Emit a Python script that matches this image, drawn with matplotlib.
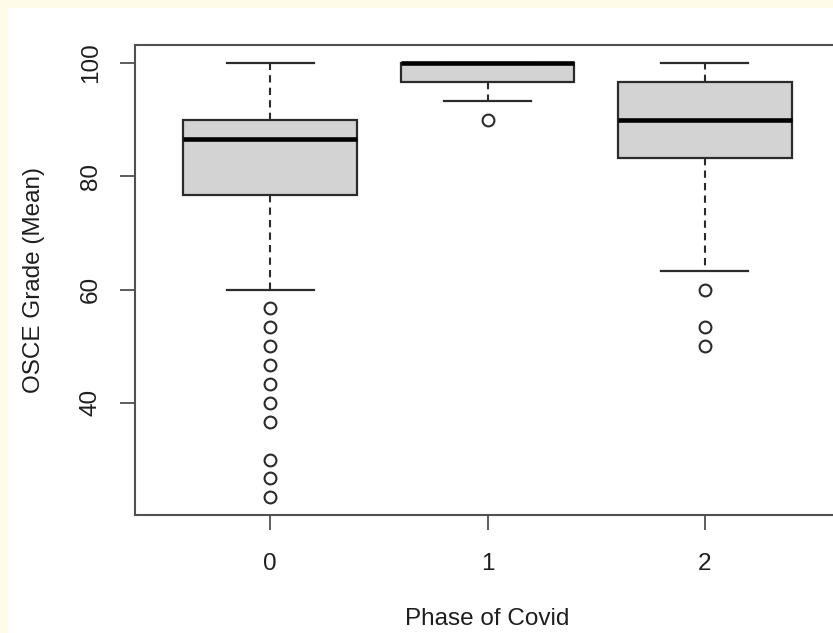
import matplotlib
matplotlib.use("Agg")
import matplotlib.pyplot as plt
from matplotlib.patches import Rectangle

plt.rcParams['font.family'] = ['Liberation Sans', 'DejaVu Sans']

# data (phase of covid -> OSCE grade mean)
phases = ['0', '1', '2']
positions = [0, 1, 2]
whislo = [60.0, 93.33, 63.33]
q1 = [76.67, 96.67, 83.33]
med = [86.67, 100.0, 90.0]
q3 = [90.0, 100.0, 96.67]
whishi = [100.0, 100.0, 100.0]
fliers_0 = [56.67, 53.33, 50.0, 46.67, 43.33, 40.0, 36.67, 30.0, 26.67, 23.33]
fliers_1 = [90.0]
fliers_2 = [60.0, 53.33, 50.0]
fliers = [fliers_0, fliers_1, fliers_2]

stats = []
for i in range(len(phases)):
    stats.append({'label': phases[i], 'whislo': whislo[i], 'q1': q1[i], 'med': med[i],
                  'q3': q3[i], 'whishi': whishi[i], 'fliers': fliers[i]})

W, H = 833, 633
fig = plt.figure(figsize=(W / 100, H / 100), dpi=100)
fig.patch.set_facecolor('#fffbe9')
fig.add_artist(Rectangle((8 / W, 0), 1, 1 - 8 / H, transform=fig.transFigure,
                         facecolor='white', edgecolor='none', zorder=0))

ax = fig.add_axes([135 / W, 1 - 515 / H, 705 / W, 470 / H])
ax.set_facecolor('white')

dark = '#2b2b2b'
ax.bxp(stats, positions=positions, widths=0.8, patch_artist=True, showfliers=True,
       boxprops=dict(facecolor='#d3d3d3', edgecolor=dark, linewidth=1.6),
       medianprops=dict(color='black', linewidth=3.3, solid_capstyle='butt'),
       whiskerprops=dict(color=dark, linewidth=1.5, linestyle=(0, (3.5, 2.5))),
       capprops=dict(color=dark, linewidth=1.6),
       capwidths=0.4,
       flierprops=dict(marker='o', markerfacecolor='none', markeredgecolor=dark,
                       markersize=8.5, markeredgewidth=1.5, linestyle='none'))

ax.set_xlim(-0.6207, 2.6207)
ax.set_ylim(20.2, 103.2)
ax.set_xticks(positions)
ax.set_xticklabels(phases)
ax.set_yticks([40, 60, 80, 100])
ax.set_yticklabels(['40', '60', '80', '100'], rotation=90, va='center')

for s in ax.spines.values():
    s.set_color('#505050')
    s.set_linewidth(1.5)

ax.tick_params(axis='both', length=11, width=1.3, color='#505050',
               labelsize=17.5, labelcolor='#1e1e1e')
ax.tick_params(axis='x', pad=16)
ax.tick_params(axis='y', pad=13)

ax.set_xlabel('Phase of Covid', fontsize=17.5, color='#1e1e1e', labelpad=24)
ax.set_ylabel('OSCE Grade (Mean)', fontsize=17.5, color='#1e1e1e', labelpad=25)

fig.savefig('out.png', dpi=100, facecolor=fig.get_facecolor())
